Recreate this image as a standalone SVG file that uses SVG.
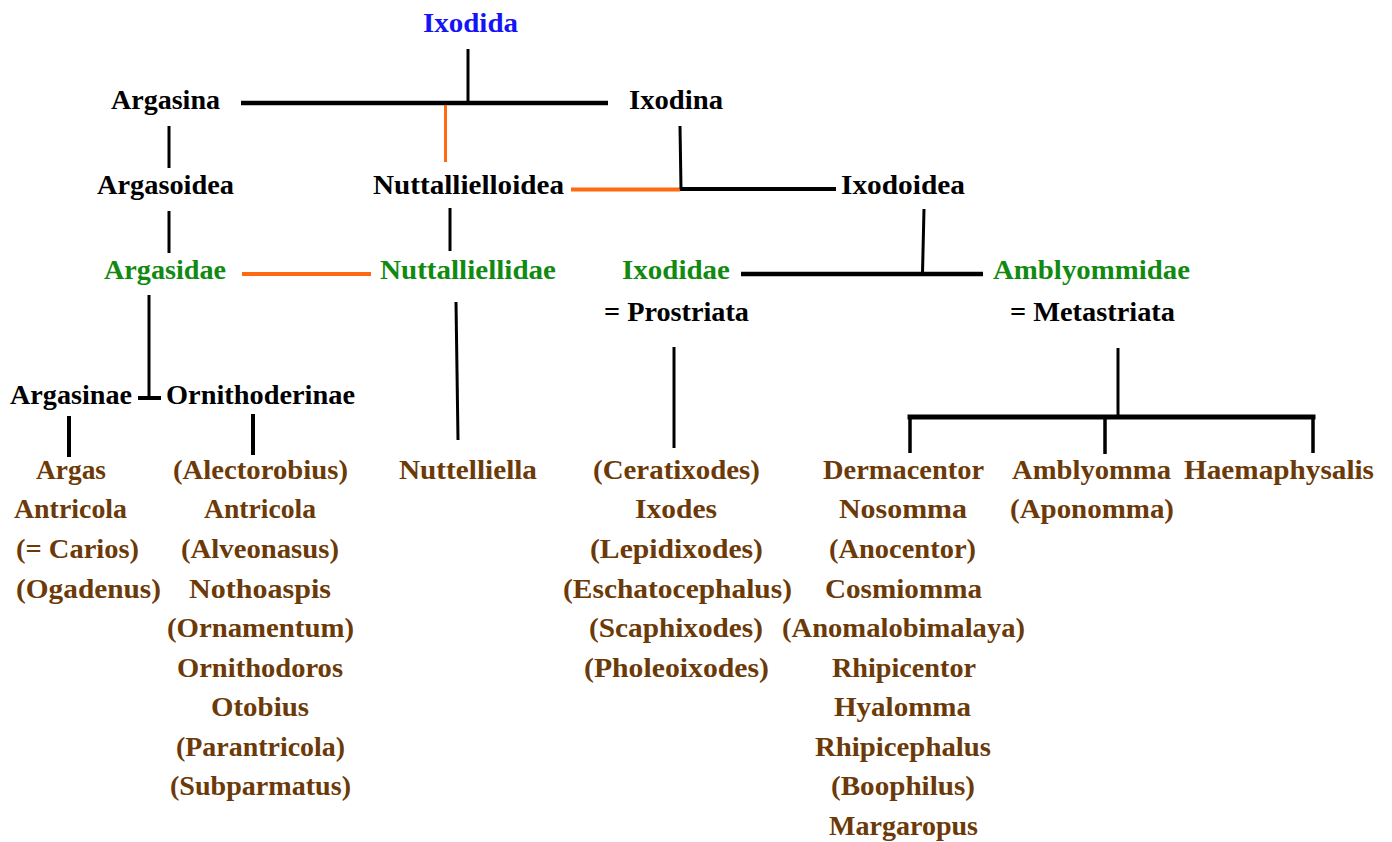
<svg xmlns="http://www.w3.org/2000/svg" width="1392" height="842" viewBox="0 0 1392 842">
<style>
text{font-family:"Liberation Serif","Times New Roman",serif;font-weight:bold;font-size:27px}
.k{fill:#000}
.g{fill:#128a12}
.b{fill:#1414f5}
.br{fill:#6b3a08}
.ln{stroke:#000;fill:none;stroke-linecap:butt}
.or{stroke:#ff6a10;fill:none;stroke-width:4}
</style>
<rect width="1392" height="842" fill="#fff"/>
<g id="connectors">
<line class="ln" x1="468" y1="49" x2="468" y2="103" stroke-width="3"/>
<line class="ln" x1="241" y1="103" x2="608" y2="103" stroke-width="4.5"/>
<line class="or" x1="445.5" y1="105" x2="445.5" y2="162" style="stroke-width:3"/>
<line class="ln" x1="169" y1="126" x2="169" y2="168" stroke-width="3"/>
<line class="ln" x1="169" y1="211" x2="169" y2="253" stroke-width="3"/>
<line class="ln" x1="450" y1="208" x2="450" y2="251" stroke-width="3"/>
<line class="or" x1="571" y1="189.5" x2="680" y2="189.5"/>
<line class="ln" x1="680" y1="126" x2="681" y2="189" stroke-width="3"/>
<line class="ln" x1="680" y1="189" x2="836" y2="189" stroke-width="4"/>
<line class="ln" x1="924" y1="209" x2="922.5" y2="273" stroke-width="3"/>
<line class="ln" x1="741" y1="274" x2="983" y2="274" stroke-width="4.5"/>
<line class="or" x1="242" y1="274" x2="371" y2="274"/>
<line class="ln" x1="149" y1="295" x2="149" y2="398" stroke-width="3"/>
<line class="ln" x1="138" y1="398" x2="161" y2="398" stroke-width="4"/>
<line class="ln" x1="456" y1="302" x2="458" y2="440" stroke-width="3"/>
<line class="ln" x1="69" y1="416" x2="69" y2="457" stroke-width="4"/>
<line class="ln" x1="253" y1="414" x2="253" y2="455" stroke-width="4"/>
<line class="ln" x1="674" y1="347" x2="674" y2="448" stroke-width="3"/>
<line class="ln" x1="1118" y1="348" x2="1118" y2="415" stroke-width="3"/>
<line class="ln" x1="907.5" y1="417" x2="1315.5" y2="417" stroke-width="5"/>
<line class="ln" x1="910" y1="417" x2="910" y2="453" stroke-width="3.5"/>
<line class="ln" x1="1105" y1="417" x2="1105" y2="454" stroke-width="3.5"/>
<line class="ln" x1="1313" y1="417" x2="1313" y2="453" stroke-width="3.5"/>
</g>
<g id="n-ixodida"><text class="b" x="423" y="32" textLength="95" lengthAdjust="spacingAndGlyphs">Ixodida</text></g>
<g id="n-argasina"><text class="k" x="111" y="109" textLength="109" lengthAdjust="spacingAndGlyphs">Argasina</text></g>
<g id="n-ixodina"><text class="k" x="629" y="109" textLength="94" lengthAdjust="spacingAndGlyphs">Ixodina</text></g>
<g id="n-argasoidea"><text class="k" x="97" y="194" textLength="137" lengthAdjust="spacingAndGlyphs">Argasoidea</text></g>
<g id="n-nuttallielloidea"><text class="k" x="373" y="194" textLength="191" lengthAdjust="spacingAndGlyphs">Nuttallielloidea</text></g>
<g id="n-ixodoidea"><text class="k" x="841" y="194" textLength="124" lengthAdjust="spacingAndGlyphs">Ixodoidea</text></g>
<g id="n-argasidae"><text class="g" x="104" y="279" textLength="122" lengthAdjust="spacingAndGlyphs">Argasidae</text></g>
<g id="n-nuttalliellidae"><text class="g" x="380" y="279" textLength="176" lengthAdjust="spacingAndGlyphs">Nuttalliellidae</text></g>
<g id="n-ixodidae">
<text class="g" x="622" y="279" textLength="108" lengthAdjust="spacingAndGlyphs">Ixodidae</text>
<text class="k" x="604" y="321" textLength="145" lengthAdjust="spacingAndGlyphs">= Prostriata</text>
</g>
<g id="n-amblyommidae">
<text class="g" x="993" y="279" textLength="197" lengthAdjust="spacingAndGlyphs">Amblyommidae</text>
<text class="k" x="1010" y="321" textLength="165" lengthAdjust="spacingAndGlyphs">= Metastriata</text>
</g>
<g id="n-argasinae"><text class="k" x="10" y="404" textLength="122" lengthAdjust="spacingAndGlyphs">Argasinae</text></g>
<g id="n-ornithoderinae"><text class="k" x="166" y="404" textLength="189" lengthAdjust="spacingAndGlyphs">Ornithoderinae</text></g>
<g id="n-argasinae-genera">
<text class="br" x="36" y="479" textLength="70" lengthAdjust="spacingAndGlyphs">Argas</text>
<text class="br" x="14" y="518" textLength="113" lengthAdjust="spacingAndGlyphs">Antricola</text>
<text class="br" x="16" y="558" textLength="123" lengthAdjust="spacingAndGlyphs">(= Carios)</text>
<text class="br" x="16" y="598" textLength="145" lengthAdjust="spacingAndGlyphs">(Ogadenus)</text>
</g>
<g id="n-ornithoderinae-genera">
<text class="br" x="173" y="479" textLength="175" lengthAdjust="spacingAndGlyphs">(Alectorobius)</text>
<text class="br" x="204" y="518" textLength="112" lengthAdjust="spacingAndGlyphs">Antricola</text>
<text class="br" x="181" y="558" textLength="158" lengthAdjust="spacingAndGlyphs">(Alveonasus)</text>
<text class="br" x="189" y="598" textLength="142" lengthAdjust="spacingAndGlyphs">Nothoaspis</text>
<text class="br" x="167" y="637" textLength="187" lengthAdjust="spacingAndGlyphs">(Ornamentum)</text>
<text class="br" x="177" y="677" textLength="166" lengthAdjust="spacingAndGlyphs">Ornithodoros</text>
<text class="br" x="211" y="716" textLength="98" lengthAdjust="spacingAndGlyphs">Otobius</text>
<text class="br" x="176" y="756" textLength="169" lengthAdjust="spacingAndGlyphs">(Parantricola)</text>
<text class="br" x="170" y="795" textLength="181" lengthAdjust="spacingAndGlyphs">(Subparmatus)</text>
</g>
<g id="n-nuttalliellidae-genera">
<text class="br" x="399" y="479" textLength="138" lengthAdjust="spacingAndGlyphs">Nuttelliella</text>
</g>
<g id="n-ixodidae-genera">
<text class="br" x="593" y="479" textLength="167" lengthAdjust="spacingAndGlyphs">(Ceratixodes)</text>
<text class="br" x="635" y="518" textLength="82" lengthAdjust="spacingAndGlyphs">Ixodes</text>
<text class="br" x="590" y="558" textLength="173" lengthAdjust="spacingAndGlyphs">(Lepidixodes)</text>
<text class="br" x="563" y="598" textLength="229" lengthAdjust="spacingAndGlyphs">(Eschatocephalus)</text>
<text class="br" x="589" y="637" textLength="174" lengthAdjust="spacingAndGlyphs">(Scaphixodes)</text>
<text class="br" x="584" y="677" textLength="185" lengthAdjust="spacingAndGlyphs">(Pholeoixodes)</text>
</g>
<g id="n-dermacentor-group">
<text class="br" x="823" y="479" textLength="161" lengthAdjust="spacingAndGlyphs">Dermacentor</text>
<text class="br" x="839" y="518" textLength="128" lengthAdjust="spacingAndGlyphs">Nosomma</text>
<text class="br" x="829" y="558" textLength="147" lengthAdjust="spacingAndGlyphs">(Anocentor)</text>
<text class="br" x="825" y="598" textLength="157" lengthAdjust="spacingAndGlyphs">Cosmiomma</text>
<text class="br" x="782" y="637" textLength="243" lengthAdjust="spacingAndGlyphs">(Anomalobimalaya)</text>
<text class="br" x="832" y="677" textLength="144" lengthAdjust="spacingAndGlyphs">Rhipicentor</text>
<text class="br" x="834" y="716" textLength="137" lengthAdjust="spacingAndGlyphs">Hyalomma</text>
<text class="br" x="815" y="756" textLength="176" lengthAdjust="spacingAndGlyphs">Rhipicephalus</text>
<text class="br" x="831" y="795" textLength="144" lengthAdjust="spacingAndGlyphs">(Boophilus)</text>
<text class="br" x="829" y="835" textLength="149" lengthAdjust="spacingAndGlyphs">Margaropus</text>
</g>
<g id="n-amblyomma-group">
<text class="br" x="1012" y="479" textLength="159" lengthAdjust="spacingAndGlyphs">Amblyomma</text>
<text class="br" x="1010" y="518" textLength="164" lengthAdjust="spacingAndGlyphs">(Aponomma)</text>
</g>
<g id="n-haemaphysalis"><text class="br" x="1184" y="479" textLength="190" lengthAdjust="spacingAndGlyphs">Haemaphysalis</text></g>
</svg>
